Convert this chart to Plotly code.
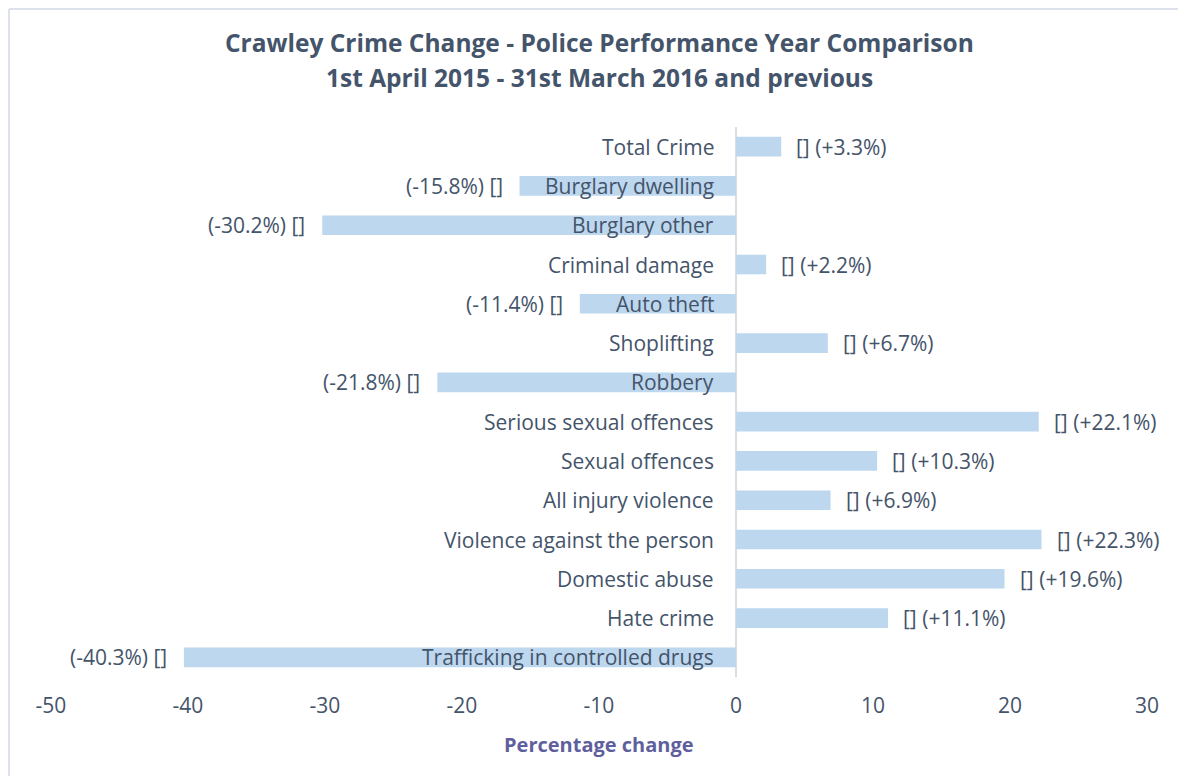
import plotly.graph_objects as go

categories = ["Total Crime", "Burglary dwelling", "Burglary other", "Criminal damage",
              "Auto theft", "Shoplifting", "Robbery", "Serious sexual offences",
              "Sexual offences", "All injury violence", "Violence against the person",
              "Domestic abuse", "Hate crime", "Trafficking in controlled drugs"]
values = [3.3, -15.8, -30.2, 2.2, -11.4, 6.7, -21.8, 22.1, 10.3, 6.9, 22.3, 19.6, 11.1, -40.3]
tick_vals = [-50, -40, -30, -20, -10, 0, 10, 20, 30]
tick_text = ["-50", "-40", "-30", "-20", "-10", "0", "10", "20", "30"]
title_lines = ["Crawley Crime Change - Police Performance Year Comparison",
               "1st April 2015 - 31st March 2016 and previous"]
x_title = "Percentage change"

TEXT = "#44546A"
FONT = "Open Sans"
FS = 21

fig = go.Figure()
fig.add_trace(go.Bar(
    y=categories, x=values, orientation="h",
    marker=dict(color="#BDD7EE", line=dict(width=0)),
    hoverinfo="x+y", showlegend=False,
))

annotations = []
for c, v in zip(categories, values):
    annotations.append(dict(x=0, y=c, xref="x", yref="y", text=c, showarrow=False,
                            xanchor="right", xshift=-20,
                            font=dict(family=FONT, size=FS, color=TEXT)))
    if v >= 0:
        lab = f"[] (+{v:.1f}%)"
        annotations.append(dict(x=v, y=c, xref="x", yref="y", text=lab, showarrow=False,
                                xanchor="left", xshift=13,
                                font=dict(family=FONT, size=FS, color=TEXT)))
    else:
        lab = f"({v:.1f}%) []"
        annotations.append(dict(x=v, y=c, xref="x", yref="y", text=lab, showarrow=False,
                                xanchor="right", xshift=-15,
                                font=dict(family=FONT, size=FS, color=TEXT)))

# title lines
for txt, yp in zip(title_lines, [1.1545, 1.0909]):
    annotations.append(dict(x=0.5, y=yp, xref="paper", yref="paper", text=f"<b>{txt}</b>",
                            showarrow=False, xanchor="center", yanchor="middle",
                            font=dict(family=FONT, size=24.5, color=TEXT)))
# x-axis title
annotations.append(dict(x=0.5, y=-0.1236, xref="paper", yref="paper", text=f"<b>{x_title}</b>",
                        showarrow=False, xanchor="center", yanchor="middle",
                        font=dict(family=FONT, size=20, color="#5F5F9E")))

fig.update_layout(
    width=1170, height=768,
    margin=dict(l=43, r=31, t=119, b=99),
    paper_bgcolor="white", plot_bgcolor="white",
    bargap=0.5,
    xaxis=dict(range=[-50, 30], tickvals=tick_vals, ticktext=tick_text, showgrid=False,
               zeroline=True, zerolinecolor="#D9DEE6", zerolinewidth=2, showline=False,
               tickfont=dict(family=FONT, size=FS, color=TEXT), ticks="",
               ticklabelstandoff=14),
    yaxis=dict(autorange="reversed", showticklabels=False, showgrid=False,
               zeroline=False, showline=False, ticks=""),
    annotations=annotations,
    shapes=[
        dict(type="line", xref="paper", yref="paper", x0=-0.0383, x1=1.05, y0=1.2145, y1=1.2145,
             line=dict(color="#DDE1EA", width=2)),
        dict(type="line", xref="paper", yref="paper", x0=-0.0383, x1=-0.0383, y0=-0.2, y1=1.2145,
             line=dict(color="#DDE1EA", width=2)),
    ],
)

fig.write_html("out.html")
